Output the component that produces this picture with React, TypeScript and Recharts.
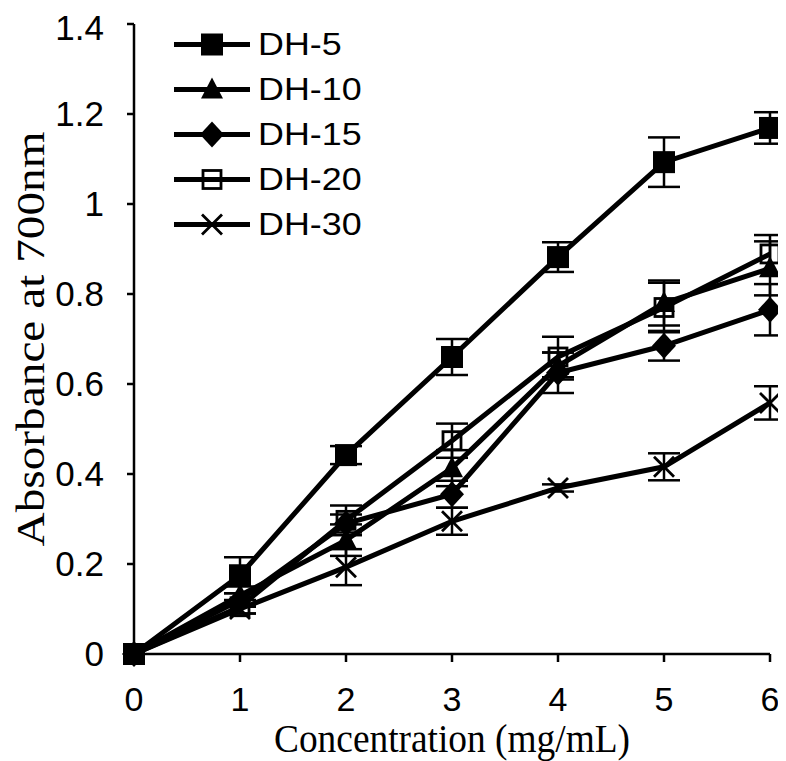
import React from 'react';
import { LineChart, Line, XAxis, YAxis, ErrorBar, Legend } from 'recharts';

const concentrations = [0, 1, 2, 3, 4, 5, 6];
const seriesNames = ['DH-5', 'DH-10', 'DH-15', 'DH-20', 'DH-30'];
const dh5 = [0, 0.175, 0.442, 0.66, 0.882, 1.093, 1.169];
const dh5Err = [0, 0.04, 0.02, 0.04, 0.033, 0.055, 0.035];
const dh10 = [0, 0.13, 0.253, 0.413, 0.64, 0.78, 0.857];
const dh10Err = [0, 0.02, 0.035, 0.04, 0.03, 0.05, 0.06];
const dh15 = [0, 0.12, 0.29, 0.355, 0.625, 0.685, 0.765];
const dh15Err = [0, 0.015, 0.02, 0.03, 0.045, 0.033, 0.057];
const dh20 = [0, 0.105, 0.297, 0.474, 0.66, 0.77, 0.889];
const dh20Err = [0, 0.015, 0.033, 0.038, 0.045, 0.055, 0.042];
const dh30 = [0, 0.1, 0.193, 0.295, 0.369, 0.416, 0.558];
const dh30Err = [0, 0.01, 0.04, 0.03, 0.008, 0.03, 0.037];
const yTicks = [0, 0.2, 0.4, 0.6, 0.8, 1, 1.2, 1.4];

const data = concentrations.map((c, i) => ({
  c,
  dh5: dh5[i], dh5e: dh5Err[i],
  dh10: dh10[i], dh10e: dh10Err[i],
  dh15: dh15[i], dh15e: dh15Err[i],
  dh20: dh20[i], dh20e: dh20Err[i],
  dh30: dh30[i], dh30e: dh30Err[i],
}));

const FilledSquare = (p: any) => (
  <rect key={`sq-${p.index}`} x={p.cx - 11} y={p.cy - 11} width={22} height={22} fill="#000" />
);
const Triangle = (p: any) => (
  <path key={`tr-${p.index}`} d={`M${p.cx},${p.cy - 12} L${p.cx + 11},${p.cy + 9} L${p.cx - 11},${p.cy + 9} Z`} fill="#000" />
);
const Diamond = (p: any) => (
  <path key={`dm-${p.index}`} d={`M${p.cx},${p.cy - 13} L${p.cx + 12},${p.cy} L${p.cx},${p.cy + 13} L${p.cx - 12},${p.cy} Z`} fill="#000" />
);
const OpenSquare = (p: any) => (
  <rect key={`os-${p.index}`} x={p.cx - 9} y={p.cy - 9} width={18} height={18} fill="none" stroke="#000" strokeWidth={2.8} />
);
const Cross = (p: any) => (
  <path key={`cr-${p.index}`} d={`M${p.cx - 10},${p.cy - 10} L${p.cx + 10},${p.cy + 10} M${p.cx + 10},${p.cy - 10} L${p.cx - 10},${p.cy + 10}`} stroke="#000" strokeWidth={2.8} fill="none" />
);

const markers = [FilledSquare, Triangle, Diamond, OpenSquare, Cross];
const keys = ['dh5', 'dh10', 'dh15', 'dh20', 'dh30'];

const LegendContent = () => (
  <div>
    {seriesNames.map((n, i) => (
      <div key={n} style={{ display: 'flex', alignItems: 'center', height: 45 }}>
        <svg width={78} height={45}>
          <line x1={1} x2={77} y1={22.5} y2={22.5} stroke="#000" strokeWidth={5} />
          {markers[i]({ cx: 39, cy: 22.5, index: 0 })}
        </svg>
        <span
          style={{
            marginLeft: 7,
            fontFamily: '"Liberation Sans", Arial, sans-serif',
            fontSize: 32,
            color: '#000',
            lineHeight: '45px',
            display: 'inline-block',
            transform: 'scaleX(1.12)',
            transformOrigin: 'left center',
            whiteSpace: 'nowrap',
          }}
        >
          {n}
        </span>
      </div>
    ))}
  </div>
);

const serif = '"Liberation Serif", "Times New Roman", serif';
const sans = '"Liberation Sans", Arial, sans-serif';

const XTitle = (props: any) => {
  const vb = props.viewBox;
  const cx = vb.x + vb.width / 2;
  return (
    <text x={cx} y={vb.y + 98} textAnchor="middle" fontFamily={serif} fontSize={40} fill="#000" textLength={356} lengthAdjust="spacingAndGlyphs">
      Concentration (mg/mL)
    </text>
  );
};

const YTitle = (props: any) => {
  const vb = props.viewBox;
  const cx = vb.x + 22;
  const cy = vb.y + vb.height / 2;
  return (
    <text x={cx} y={cy} textAnchor="middle" dominantBaseline="central" fontFamily={serif} fontSize={40} fill="#000" transform={`rotate(-90, ${cx}, ${cy})`} textLength={415} lengthAdjust="spacingAndGlyphs">
      Absorbance at 700nm
    </text>
  );
};

export default function App() {
  return (
    <LineChart width={778} height={753} data={data} margin={{ top: 16, right: 16, left: 0, bottom: 0 }}>
      <XAxis
        dataKey="c"
        type="number"
        domain={[0, 6]}
        ticks={concentrations}
        height={107}
        axisLine={{ stroke: '#000', strokeWidth: 2.5 }}
        tickLine={{ stroke: '#000', strokeWidth: 2.5 }}
        tickSize={8}
        tickMargin={25}
        tick={{ fill: '#000', fontSize: 34, fontFamily: sans }}
        label={<XTitle />}
      />
      <YAxis
        type="number"
        domain={[0, 1.4]}
        ticks={yTicks}
        width={126}
        axisLine={{ stroke: '#000', strokeWidth: 2.5 }}
        tickLine={{ stroke: '#000', strokeWidth: 2.5 }}
        tickSize={7}
        tickMargin={23}
        tick={{ fill: '#000', fontSize: 35, fontFamily: sans }}
        label={<YTitle />}
      />
      <Legend
        layout="vertical"
        align="center"
        verticalAlign="middle"
        wrapperStyle={{ left: 165, top: 14 }}
        content={<LegendContent />}
      />
      {keys.map((k, i) => (
        <Line
          key={k}
          dataKey={k}
          name={seriesNames[i]}
          type="linear"
          stroke="#000"
          strokeWidth={5}
          dot={markers[i]}
          activeDot={false}
          isAnimationActive={false}
        >
          <ErrorBar dataKey={`${k}e`} width={16} strokeWidth={2.5} stroke="#000" direction="y" />
        </Line>
      ))}
    </LineChart>
  );
}
